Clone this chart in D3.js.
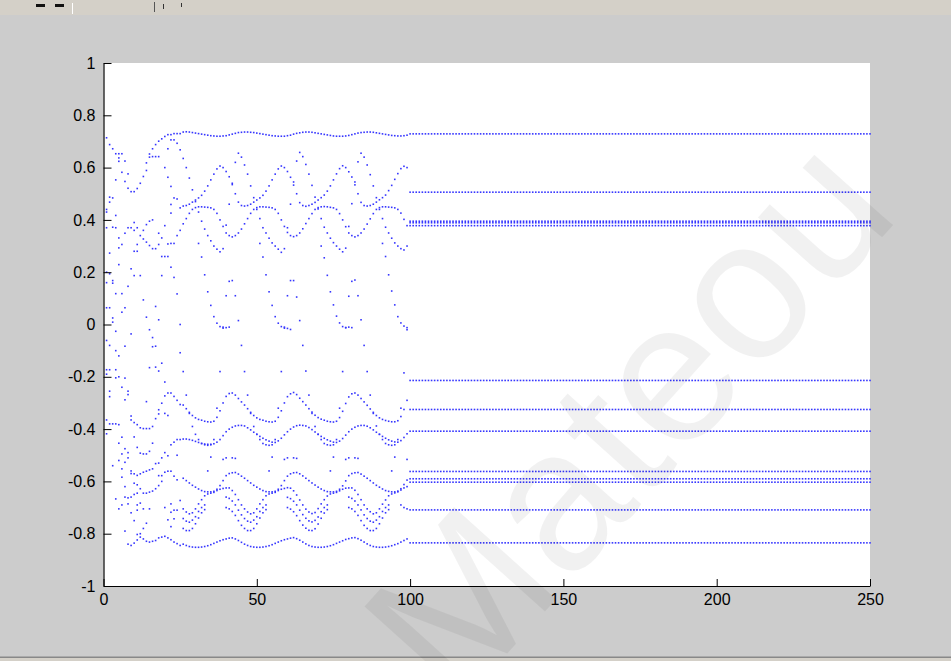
<!DOCTYPE html>
<html><head><meta charset="utf-8">
<script src="https://cdn.jsdelivr.net/npm/d3@7"></script>
<style>html,body{margin:0;padding:0;background:#cccccc;overflow:hidden}</style>
</head><body>
<svg id="chart" width="951" height="661"></svg>
<script>
const N = null;
const xTicks = [0, 50, 100, 150, 200, 250];
const yTicks = [-1, -0.8, -0.6, -0.4, -0.2, 0, 0.2, 0.4, 0.6, 0.8, 1];
const yTickLabels = ["-1", "-0.8", "-0.6", "-0.4", "-0.2", "0", "0.2", "0.4", "0.6", "0.8", "1"];

// x = 1 .. 25 : values seen in each column
const leftColumns = [
  [0.714, 0.44, 0.43, 0.37, 0.2, 0.16, 0.064, -0.061, -0.173, -0.19, -0.365, -0.418],
  [0.688, 0.487, 0.468, 0.273, 0.194, 0.064, -0.08, -0.173, -0.255, -0.276, -0.38],
  [0.672, 0.484, 0.372, 0.168, 0.158, 0.025, 0.009, -0.38, -0.54],
  [0.653, 0.553, 0.417, 0.37, 0.118, -0.026, -0.1, -0.173, -0.204, -0.38, -0.667],
  [0.653, 0.637, 0.624, 0.331, 0.293, 0.229, -0.12, -0.2, -0.383, -0.454, -0.52, -0.705],
  [0.653, 0.582, 0.306, 0.118, 0.047, -0.24, -0.431, -0.495, -0.552, -0.584, -0.69],
  [0.625, 0.547, 0.349, 0.064, -0.083, -0.205, -0.288, -0.475, -0.527, -0.62, -0.66, -0.79],
  [0.576, 0.521, 0.37, 0.146, -0.255, -0.268, -0.49, -0.51, -0.663, -0.686, -0.84],
  [0.508, 0.37, 0.213, -0.036, -0.35, -0.365, -0.56, -0.57, -0.66, -0.72, -0.845],
  [0.508, 0.39, 0.36, 0.28, 0.187, -0.375, -0.43, -0.571, -0.607, -0.65, -0.75, -0.836],
  [0.52, 0.37, 0.306, 0.28, -0.383, -0.47, -0.577, -0.613, -0.645, -0.69, -0.71, -0.803, -0.824],
  [0.54, 0.34, 0.187, -0.395, -0.492, -0.571, -0.628, -0.683, -0.8, -0.813],
  [0.566, 0.36, 0.327, 0.094, -0.398, -0.495, -0.565, -0.645, -0.705, -0.78, -0.82],
  [0.618, 0.589, 0.382, 0.315, 0.028, -0.295, -0.398, -0.495, -0.561, -0.645, -0.76, -0.829],
  [0.652, 0.64, 0.395, 0.302, -0.02, -0.165, -0.398, -0.485, -0.556, -0.641, -0.705, -0.832],
  [0.672, 0.642, 0.4, 0.29, -0.05, -0.085, -0.39, -0.454, -0.552, -0.637, -0.829],
  [0.688, 0.642, 0.29, 0.069, -0.083, -0.163, -0.36, -0.532, -0.628, -0.826],
  [0.701, 0.642, 0.349, 0.306, 0.018, -0.178, -0.326, -0.342, -0.53, -0.578, -0.616, -0.816],
  [0.71, 0.331, 0.26, 0.187, -0.148, -0.301, -0.51, -0.578, -0.6, -0.813],
  [0.719, 0.6, 0.378, 0.26, -0.22, -0.273, -0.34, -0.49, -0.565, -0.7, -0.81],
  [0.726, 0.672, 0.563, 0.308, 0.26, -0.262, -0.348, -0.502, -0.561, -0.747, -0.816],
  [0.726, 0.706, 0.528, 0.459, 0.426, 0.31, 0.219, -0.262, -0.46, -0.561, -0.686, -0.718, -0.773, -0.823],
  [0.73, 0.706, 0.484, 0.31, 0.18, -0.275, -0.45, -0.58, -0.71, -0.743, -0.832],
  [0.73, 0.693, 0.48, 0.34, 0.117, -0.29, -0.44, -0.5, -0.594, -0.71, -0.838],
  [0.73, 0.668, 0.446, 0.36, 0.0, -0.108, -0.306, -0.44, -0.673, -0.845]
];

// x = 26 .. 99 : traced branches (null = no dot)
const branchStartX = 26;
const locA = [
  .736,.737,.736,.734,.732,.730,.728,.726,.724,.722,.721,.720,.720,.721,
  .722,.725,.728,.731,.734,.735,.736,.736,.735,.734,.732,.730,.728,.726,.724,.722,.721,.720,.720,.720,
  .722,.724,.728,.731,.733,.735,.736,.736,.735,.733,.731,.729,.727,.725,.723,.721,.720,.720,.720,.721,
  .723,.726,.729,.732,.734,.735,.736,.736,.735,.733,.731,.729,.727,.725,.723,.722,.721,.721,.722,.724];
const locD = [
  .635,.60,.56,.515,.47,.43,.395,.365,.34,.32,.30,.288,.278,.29,
  .38,.46,.54,.62,.655,.64,.61,.575,.53,.485,.44,.405,.37,.35,.33,.312,.30,.288,.276,.29,
  .37,.46,.545,.625,.658,.642,.612,.575,.532,.487,.442,.405,.372,.35,.33,.313,.30,.288,.278,.292,
  .375,.462,.545,.622,.655,.64,.61,.573,.53,.485,.44,.405,.372,.35,.33,.312,.30,.29,.285,.30];
const locR = [
  .453,.455,.46,.468,.476,.484,.494,.51,.53,.553,.575,.595,.606,.60,
  .585,.565,.535,.50,.468,.455,.453,.455,.46,.468,.476,.484,.494,.51,.53,.553,.575,.595,.606,.60,
  .585,.563,.533,.50,.466,.455,.452,.455,.46,.467,.476,.485,.495,.51,.53,.553,.576,.596,.607,.60,
  .584,.564,.534,.50,.467,.455,.453,.455,.46,.468,.477,.485,.495,.512,.532,.555,.577,.596,.605,.60];
const locL44 = [
  .385,.405,.425,.44,.447,.45,.45,.449,.448,.446,.44,.425,.40,.375,
  .35,.34,.335,.34,.35,.365,.385,.405,.425,.44,.447,.45,.45,.449,.448,.446,.44,.425,.40,.375,
  .352,.34,.336,.34,.35,.366,.386,.405,.424,.44,.447,.45,.451,.45,.448,.446,.44,.424,.40,.374,
  .35,.34,.335,.34,.35,.365,.384,.404,.424,.44,.447,.45,.45,.449,.448,.446,.44,.426,.402,.378];
const locM1 = [
  N,N,N,N,N,.31,.258,.19,.125,.073,.03,.005,-.008,-.014,
  -.012,-.01,N,N,N,N,N,N,N,N,N,.31,.258,.19,.125,.073,.03,.005,-.008,-.014,
  -.015,-.019,N,N,N,N,N,N,N,N,N,.30,.255,.188,.125,.075,.032,.006,-.008,-.012,
  -.01,-.012,N,N,N,N,N,N,N,N,N,.31,.26,.19,.128,.075,.03,.006,-.006,-.012];
const locM2 = [
  -.18,-.27,-.34,-.39,-.42,-.44,-.455,-.46,-.462,-.46,-.44,-.32,-.18,-.01,
  .11,.165,.168,.11,.015,-.08,-.18,-.27,-.34,-.39,-.42,-.44,-.455,-.46,-.462,-.46,-.44,-.32,-.18,-.01,
  .11,.168,.168,.105,.015,-.08,-.178,-.27,-.34,-.39,-.42,-.44,-.455,-.46,-.462,-.46,-.44,-.32,-.18,-.012,
  .108,.165,.17,.11,.018,-.08,-.18,-.27,-.34,-.388,-.42,-.44,-.455,-.46,-.462,-.46,-.44,-.32,-.185,-.02];
const locL1 = [
  -.308,-.322,-.336,-.348,-.357,-.363,-.366,-.37,-.372,-.373,-.37,-.355,-.33,-.30,
  -.275,-.264,-.262,-.27,-.283,-.296,-.308,-.322,-.336,-.348,-.357,-.363,-.366,-.37,-.372,-.373,-.37,-.355,-.33,-.30,
  -.276,-.265,-.26,-.268,-.282,-.295,-.308,-.322,-.335,-.347,-.356,-.362,-.366,-.37,-.372,-.373,-.37,-.356,-.332,-.302,
  -.277,-.265,-.262,-.27,-.283,-.296,-.309,-.323,-.336,-.348,-.357,-.363,-.367,-.37,-.372,-.372,-.368,-.352,-.325,-.29];
const locL2 = [
  -.438,-.438,-.44,-.443,-.447,-.451,-.455,-.457,-.458,-.458,-.456,-.45,-.44,-.425,
  -.41,-.40,-.393,-.388,-.386,-.386,-.388,-.395,-.403,-.412,-.42,-.428,-.435,-.441,-.446,-.45,-.451,-.445,-.435,-.422,
  -.41,-.40,-.392,-.387,-.385,-.386,-.388,-.394,-.402,-.411,-.42,-.428,-.435,-.441,-.446,-.45,-.451,-.446,-.436,-.423,
  -.41,-.40,-.393,-.388,-.386,-.386,-.389,-.395,-.403,-.412,-.42,-.428,-.435,-.441,-.446,-.449,-.45,-.444,-.432,-.418];
const locL3 = [
  -.588,-.597,-.606,-.615,-.622,-.629,-.635,-.639,-.64,-.64,-.638,-.63,-.616,-.597,
  -.578,-.57,-.567,-.566,-.572,-.58,-.588,-.597,-.606,-.615,-.622,-.629,-.635,-.639,-.64,-.64,-.638,-.63,-.616,-.597,
  -.58,-.571,-.567,-.566,-.571,-.579,-.588,-.597,-.606,-.614,-.622,-.629,-.635,-.639,-.64,-.64,-.638,-.63,-.617,-.598,
  -.578,-.57,-.567,-.566,-.572,-.58,-.588,-.597,-.606,-.615,-.622,-.629,-.635,-.638,-.64,-.64,-.637,-.628,-.612,-.595];
const locL4a = [
  -.705,-.717,-.724,-.72,-.705,-.686,-.67,-.655,-.648,-.645,-.642,-.635,-.63,-.627,
  -.625,-.625,-.635,-.65,-.67,-.69,-.705,-.717,-.724,-.72,-.705,-.686,-.67,-.655,-.648,-.645,-.642,-.635,-.63,-.627,
  -.624,-.626,-.636,-.652,-.671,-.69,-.706,-.717,-.723,-.719,-.704,-.686,-.67,-.656,-.648,-.645,-.642,-.636,-.63,-.626,
  -.625,-.625,-.634,-.65,-.67,-.69,-.705,-.716,-.724,-.72,-.705,-.687,-.671,-.655,-.648,-.644,-.64,-.633,-.625,-.62];
const locL4b = [
  -.742,-.752,-.756,-.748,-.735,-.715,-.70,-.69,N,N,N,N,N,N,
  -.66,-.665,-.675,-.69,-.71,-.728,-.742,-.752,-.756,-.748,-.735,-.715,-.70,-.69,N,N,N,N,N,N,
  -.661,-.666,-.676,-.69,-.71,-.727,-.741,-.751,-.755,-.749,-.736,-.716,-.70,-.69,N,N,N,N,N,N,
  -.66,-.665,-.675,-.69,-.709,-.728,-.742,-.752,-.756,-.748,-.735,-.715,-.70,-.69,N,N,N,-.69,-.70,-.705];
const locL4c = [
  -.78,-.788,-.788,-.78,-.762,-.74,-.72,-.708,N,N,N,N,N,N,
  -.70,-.705,-.715,-.73,-.75,-.768,-.78,-.788,-.788,-.78,-.762,-.74,-.72,-.708,N,N,N,N,N,N,
  -.70,-.706,-.716,-.731,-.75,-.767,-.779,-.787,-.788,-.781,-.763,-.741,-.721,-.708,N,N,N,N,N,N,
  -.70,-.705,-.715,-.73,-.75,-.768,-.78,-.788,-.788,-.78,-.762,-.74,-.72,-.708,N,N,N,N,N,N];
const locB = [
  -.84,-.845,-.849,-.851,-.852,-.852,-.851,-.849,-.846,-.842,-.837,-.832,-.827,-.823,
  -.82,-.817,-.816,-.82,-.826,-.833,-.84,-.845,-.849,-.851,-.852,-.852,-.851,-.849,-.846,-.842,-.837,-.832,-.827,-.823,
  -.82,-.817,-.815,-.819,-.825,-.832,-.839,-.845,-.849,-.851,-.852,-.852,-.851,-.849,-.846,-.842,-.837,-.832,-.827,-.822,
  -.819,-.816,-.815,-.819,-.825,-.832,-.839,-.845,-.849,-.851,-.852,-.852,-.851,-.849,-.846,-.842,-.838,-.832,-.826,-.82];
const locM3 = [
  N,N,N,N,N,N,N,N,-.56,-.507,N,N,N,-.516,
  -.51,N,-.51,-.512,N,N,N,N,N,N,N,N,N,N,-.56,-.507,N,N,N,-.516,
  -.51,N,-.51,-.512,N,N,N,N,N,N,N,N,N,N,-.56,-.507,N,N,N,-.516,
  -.51,N,-.51,-.512,N,N,N,N,N,N,N,N,N,N,-.56,-.507,N,N,N,-.516];

// x = 100 .. 250 : constant levels
const flatStartX = 100, flatEndX = 250;
const flatLevels = [0.729, 0.506, 0.395, 0.389, 0.378, -0.214, -0.325, -0.408, -0.562, -0.59, -0.603, -0.709, -0.835];

const watermarkText = "Mateou";

// ---------------- drawing ----------------
const svg = d3.select("#chart");
const W = 951, H = 661;
const plot = {left: 103.5, right: 870, top: 63, bottom: 586};

svg.append("rect").attr("x", 0).attr("y", 0).attr("width", W).attr("height", H).attr("fill", "#cccccc");
// window strip at top
svg.append("rect").attr("x", 0).attr("y", 0).attr("width", W).attr("height", 15).attr("fill", "#d4d0c8");
const tb = svg.append("g");
tb.append("rect").attr("x", 36).attr("y", 4).attr("width", 9).attr("height", 3).attr("fill", "#111");
tb.append("rect").attr("x", 55).attr("y", 4).attr("width", 9).attr("height", 3).attr("fill", "#111");
tb.append("line").attr("x1", 72.5).attr("x2", 72.5).attr("y1", 3).attr("y2", 14).attr("stroke", "#fff");
tb.append("line").attr("x1", 154.5).attr("x2", 154.5).attr("y1", 2).attr("y2", 12).attr("stroke", "#555");
tb.append("line").attr("x1", 163.5).attr("x2", 163.5).attr("y1", 4).attr("y2", 9).attr("stroke", "#333");
tb.append("line").attr("x1", 181.5).attr("x2", 181.5).attr("y1", 3).attr("y2", 7).attr("stroke", "#333");
// bottom window edge
svg.append("rect").attr("x", 0).attr("y", 656.5).attr("width", W).attr("height", 1.5).attr("fill", "#888");
svg.append("rect").attr("x", 0).attr("y", 658).attr("width", W).attr("height", 3).attr("fill", "#d4d0c8");

const x = d3.scaleLinear().domain([0, 250]).range([plot.left, plot.right]);
const y = d3.scaleLinear().domain([-1, 1]).range([plot.bottom, plot.top]);

svg.append("rect").attr("x", plot.left).attr("y", plot.top)
  .attr("width", plot.right - plot.left).attr("height", plot.bottom - plot.top).attr("fill", "#ffffff");

// collect points
const points = [];
leftColumns.forEach((col, i) => col.forEach(v => points.push([i + 1, v])));
[locA, locD, locR, locL44, locM1, locM2, locL1, locL2, locL3, locL4a, locL4b, locL4c, locB, locM3]
  .forEach(arr => arr.forEach((v, i) => { if (v !== null) points.push([branchStartX + i, v]); }));
const flatXs = d3.range(flatStartX, flatEndX + 1);
flatLevels.forEach(v => flatXs.forEach(xx => points.push([xx, v])));

svg.append("g").selectAll("rect").data(points).join("rect")
  .attr("x", d => x(d[0]) - 0.8).attr("y", d => y(d[1]) - 0.8)
  .attr("width", 1.6).attr("height", 1.6).attr("fill", "#3535ff");

// axes
const fontFam = "'Liberation Sans', Arial, sans-serif";
const gx = svg.append("g").attr("transform", `translate(0,${plot.bottom})`)
  .call(d3.axisBottom(x).tickValues(xTicks).tickSizeInner(-7).tickSizeOuter(0).tickPadding(8).tickFormat(d3.format("d")));
const gy = svg.append("g").attr("transform", `translate(${plot.left},0)`)
  .call(d3.axisLeft(y).tickValues(yTicks).tickSizeInner(-8).tickSizeOuter(0).tickPadding(8)
    .tickFormat((d, i) => yTickLabels[i]));
[gx, gy].forEach(g => {
  g.select(".domain").attr("stroke", "#000").attr("stroke-width", 1.2);
  g.selectAll(".tick line").attr("stroke", "#000");
  g.selectAll("text").attr("fill", "#000").style("font-family", fontFam).style("font-size", "16px");
});

// watermark (the reference shows it running off the bottom edge)
svg.append("text")
  .attr("transform", "translate(679,463) rotate(-48)")
  .attr("text-anchor", "middle")
  .style("font-family", fontFam).style("font-size", "200px")
  .attr("fill", "#000").attr("fill-opacity", 0.055)
  .text(watermarkText);
</script>
</body></html>
